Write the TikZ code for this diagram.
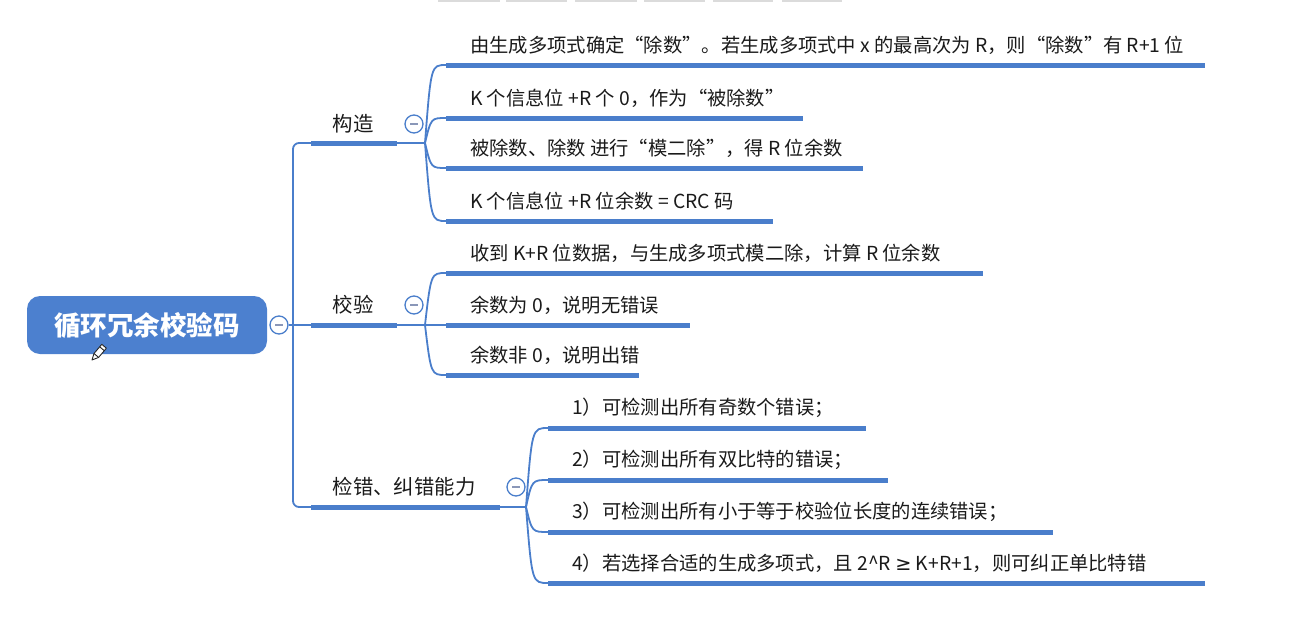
\documentclass[tikz,border=0pt]{standalone}
\usepackage{fontspec}
\setmainfont{Noto Sans CJK SC}
\newfontfamily\symfont{DejaVu Sans}
\usetikzlibrary{calc}
\definecolor{xblue}{HTML}{4A7ECB}
\definecolor{rootblue}{HTML}{4C80CF}
\definecolor{txt}{HTML}{1A1A1A}
\definecolor{minusc}{HTML}{8A97B8}
\newcommand{\mmleaf}[6]{%
  \coordinate (#1s) at (#3,#4);
  \coordinate (#1e) at (#5,#4);
  \node[leaf] (#1) at ($(#1s)+(24,-20)$) {#6};
  \draw[uline] (#1s) -- (#1e);
  \draw[conn] (#2) .. controls ($(#2 |- #1s)+(6,0)$) .. (#1s);
}
\newcommand{\mmfold}[2]{%
  \node[fold] (#1) at #2 {};
  \draw[minusc, line width=1.2pt] ($(#1)+(-4,0)$) -- ($(#1)+(4,0)$);
}
\begin{document}
\begin{tikzpicture}[x=1pt,y=-1pt,
  conn/.style={draw=xblue, line width=1.8pt},
  uline/.style={draw=xblue, line width=5pt},
  leaf/.style={anchor=west, inner sep=0, font=\fontsize{19.3}{23}\selectfont, text=txt},
  mid/.style={anchor=center, inner sep=0, font=\fontsize{20.4}{24}\selectfont, text=txt},
  fold/.style={circle, draw=xblue, fill=white, line width=1.3pt, minimum size=18pt, inner sep=0},
  rootbox/.style={rectangle, rounded corners=13pt, fill=rootblue, minimum width=240pt,
    minimum height=58pt, text=white, font=\bfseries\fontsize{26.5}{30}\selectfont, inner sep=0},
  bar/.style={fill=black!14, draw=none}
]
\useasboundingbox (0,0) rectangle (1297,616);
% toolbar remnants
\foreach \a/\b in {438/500,506/567,575/637,644/705,713/773,782/842}
  \fill[bar] (\a,0) rectangle (\b,2);

% root
\node[rootbox] (root) at (147,325) {循环冗余校验码};
\mmfold{fr}{(279,325)}
\coordinate (trunk) at (293,325);
\draw[conn] (fr.east) -- (trunk);

% pencil icon
\draw[black!85, line width=0.9pt, fill=white, line join=round]
  (92,360) -- (98.6,357.4) -- (106.4,348.2) -- (101.8,344.3) -- (94.0,353.5) -- cycle;
\draw[black!85, line width=0.9pt] (98.6,357.4) -- (94.0,353.5);
\draw[black!85, line width=0.9pt] (104.3,350.7) -- (99.7,346.8);

% ---- branch 1: 构造
\coordinate (b1s) at (311,143);
\coordinate (b1e) at (397,143);
\coordinate (f1) at (425,143);
\node[mid] (b1) at (353,124) {构造};
\draw[conn, rounded corners=6pt] (trunk) |- (b1s);
\draw[uline] (b1s) -- (b1e);
\draw[conn] (b1e) -- (f1);
\mmleaf{l11}{f1}{446}{65}{1205}{由生成多项式确定“除数”。若生成多项式中 x 的最高次为 R，则“除数”有 R+1 位}
\mmleaf{l12}{f1}{446}{118}{803}{K 个信息位 +R 个 0，作为“被除数”}
\mmleaf{l13}{f1}{446}{168}{863}{被除数、除数 进行“模二除”，得 R 位余数}
\mmleaf{l14}{f1}{446}{221}{773}{K 个信息位 +R 位余数 = CRC 码}
\mmfold{fo1}{(414,124)}

% ---- branch 2: 校验
\coordinate (b2s) at (311,325);
\coordinate (b2e) at (397,325);
\coordinate (f2) at (425,325);
\node[mid] (b2) at (353,305) {校验};
\draw[conn] (trunk) -- (b2s);
\draw[uline] (b2s) -- (b2e);
\draw[conn] (b2e) -- (f2);
\mmleaf{l21}{f2}{446}{273}{983}{收到 K+R 位数据，与生成多项式模二除，计算 R 位余数}
\mmleaf{l22}{f2}{446}{325}{690}{余数为 0，说明无错误}
\mmleaf{l23}{f2}{446}{375}{639}{余数非 0，说明出错}
\mmfold{fo2}{(414,305)}

% ---- branch 3: 检错、纠错能力
\coordinate (b3s) at (311,507);
\coordinate (b3e) at (500,507);
\coordinate (f3) at (526,507);
\node[mid] (b3) at (404,487) {检错、纠错能力};
\draw[conn, rounded corners=6pt] (trunk) |- (b3s);
\draw[uline] (b3s) -- (b3e);
\draw[conn] (b3e) -- (f3);
\mmleaf{l31}{f3}{548}{428}{866}{1）可检测出所有奇数个错误；}
\mmleaf{l32}{f3}{548}{480}{888}{2）可检测出所有双比特的错误；}
\mmleaf{l33}{f3}{548}{532}{1053}{3）可检测出所有小于等于校验位长度的连续错误；}
\mmleaf{l34}{f3}{548}{583}{1205}{4）若选择合适的生成多项式，且 2\textasciicircum R {\symfont ≥} K+R+1，则可纠正单比特错}
\mmfold{fo3}{(516,487)}
\end{tikzpicture}
\end{document}
